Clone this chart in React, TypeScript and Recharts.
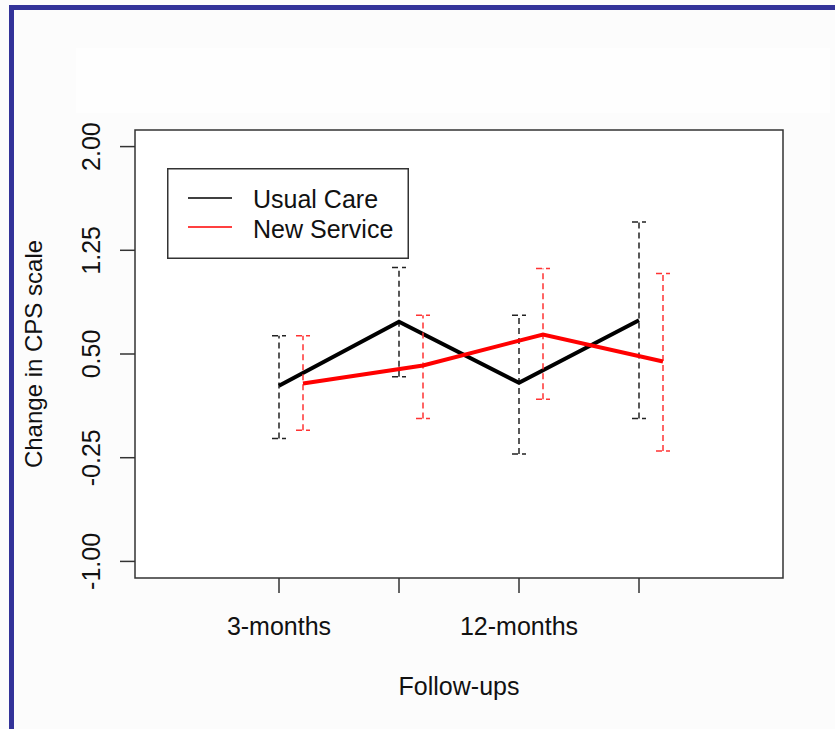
import React from "react";
import {
  LineChart,
  Line,
  XAxis,
  YAxis,
  ErrorBar,
  ReferenceArea,
  Legend,
} from "recharts";

// follow-up points (x positions 1..4), only every other one gets a label
const followUps = [1, 2, 3, 4];
const followUpLabels = ["3-months", "", "12-months", ""];

const usualCareMean = [0.27, 0.733, 0.292, 0.744];
const usualCareLow = [-0.111, 0.335, -0.224, 0.034];
const usualCareHigh = [0.632, 1.125, 0.781, 1.455];

const newServiceMean = [0.287, 0.417, 0.641, 0.446];
const newServiceLow = [-0.051, 0.034, 0.173, -0.202];
const newServiceHigh = [0.632, 0.781, 1.118, 1.082];

const yTicks = [2, 1.25, 0.5, -0.25, -1];

const DODGE = 0.2;
const FONT = '"Liberation Sans", Arial, sans-serif';

const usualCareData = followUps.map((x, i) => ({
  x,
  value: usualCareMean[i],
  err: [usualCareMean[i] - usualCareLow[i], usualCareHigh[i] - usualCareMean[i]],
}));

const newServiceData = followUps.map((x, i) => ({
  x: x + DODGE,
  value: newServiceMean[i],
  err: [newServiceMean[i] - newServiceLow[i], newServiceHigh[i] - newServiceMean[i]],
}));

const renderYTick = ({ x, y, payload }: any) => (
  <text
    x={x}
    y={y}
    transform={`rotate(-90 ${x} ${y})`}
    textAnchor="middle"
    fontSize={25}
    fontFamily={FONT}
    fill="#111"
  >
    {Number(payload.value).toFixed(2)}
  </text>
);

const renderXTick = ({ x, y, payload }: any) => {
  const idx = followUps.indexOf(payload.value);
  return (
    <text x={x} y={y + 40} textAnchor="middle" fontSize={25} fontFamily={FONT} fill="#111">
      {followUpLabels[idx] || ""}
    </text>
  );
};

const renderLegend = () => (
  <svg width={242} height={91} style={{ display: "block" }}>
    <rect x={0.75} y={0.75} width={240.5} height={89.5} fill="#fff" stroke="#333" strokeWidth={1.5} />
    <line x1={21} y1={30} x2={65} y2={30} stroke="#000" strokeWidth={1.5} />
    <line x1={21} y1={59} x2={65} y2={59} stroke="#ff0000" strokeWidth={1.5} />
    <text x={86} y={40} fontSize={25} fontFamily={FONT} fill="#111">
      Usual Care
    </text>
    <text x={86} y={70} fontSize={25} fontFamily={FONT} fill="#111">
      New Service
    </text>
  </svg>
);

export default function App() {
  return (
    <div
      style={{
        position: "absolute",
        left: 0,
        top: 0,
        width: 835,
        height: 729,
        background: "#fcfcfc",
        overflow: "hidden",
      }}
    >
      <div style={{ position: "absolute", left: 76, top: 48, width: 754, height: 65, background: "#fefefe" }} />
      <div style={{ position: "absolute", left: 9, top: 5, width: 826, height: 5, background: "#333399" }} />
      <div style={{ position: "absolute", left: 9, top: 5, width: 5, height: 724, background: "#333399" }} />

      <div style={{ position: "absolute", left: 0, top: 0 }}>
        <LineChart width={835} height={729} margin={{ top: 130, right: 52, bottom: 0, left: 0 }}>
          <XAxis
            dataKey="x"
            type="number"
            domain={[-0.2, 5.2]}
            ticks={followUps}
            allowDataOverflow
            height={151}
            tickSize={15}
            tick={renderXTick}
            tickLine={{ stroke: "#333", strokeWidth: 1.5 }}
            axisLine={false}
            label={{
              content: ({ viewBox }: any) => (
                <text
                  x={viewBox.x + viewBox.width / 2}
                  y={viewBox.y + 117}
                  textAnchor="middle"
                  fontSize={25}
                  fontFamily={FONT}
                  fill="#111"
                >
                  Follow-ups
                </text>
              ),
            }}
          />
          <YAxis
            dataKey="value"
            type="number"
            domain={[-1.12, 2.12]}
            ticks={yTicks}
            allowDataOverflow
            width={135}
            tickSize={15}
            tickMargin={20}
            tick={renderYTick}
            tickLine={{ stroke: "#333", strokeWidth: 1.5 }}
            axisLine={false}
            label={{
              content: ({ viewBox }: any) => {
                const cx = 42;
                const cy = viewBox.y + viewBox.height / 2;
                return (
                  <text
                    x={cx}
                    y={cy}
                    transform={`rotate(-90 ${cx} ${cy})`}
                    textAnchor="middle"
                    fontSize={24}
                    fontFamily={FONT}
                    fill="#111"
                  >
                    Change in CPS scale
                  </text>
                );
              },
            }}
          />
          <ReferenceArea
            x1={-0.2}
            x2={5.2}
            y1={-1.12}
            y2={2.12}
            fill="#ffffff"
            fillOpacity={1}
            stroke="#333"
            strokeWidth={1.5}
          />
          <Line
            data={usualCareData}
            dataKey="value"
            name="Usual Care"
            type="linear"
            stroke="#000000"
            strokeWidth={4}
            dot={false}
            activeDot={false}
            isAnimationActive={false}
          >
            <ErrorBar
              dataKey="err"
              direction="y"
              width={7}
              stroke="#222"
              strokeWidth={1.5}
              strokeDasharray="6 4"
              isAnimationActive={false}
            />
          </Line>
          <Line
            data={newServiceData}
            dataKey="value"
            name="New Service"
            type="linear"
            stroke="#ff0000"
            strokeWidth={4}
            dot={false}
            activeDot={false}
            isAnimationActive={false}
          >
            <ErrorBar
              dataKey="err"
              direction="y"
              width={7}
              stroke="#ff3333"
              strokeWidth={1.5}
              strokeDasharray="6 4"
              isAnimationActive={false}
            />
          </Line>
          <Legend
            content={renderLegend}
            layout="horizontal"
            verticalAlign="middle"
            align="center"
            wrapperStyle={{ position: "absolute", left: 167, top: 168, width: 242, height: 91 }}
          />
        </LineChart>
      </div>
    </div>
  );
}
